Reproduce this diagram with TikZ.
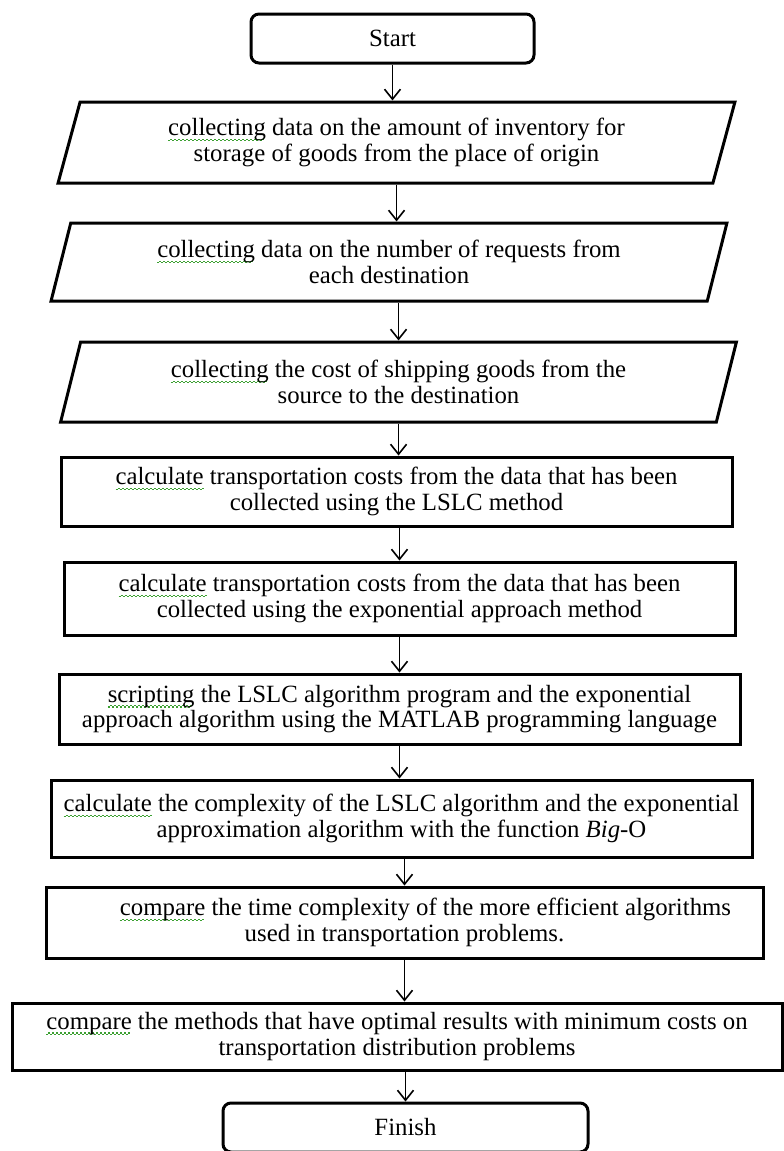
\documentclass[tikz,border=0pt]{standalone}
\usepackage{fontspec}
\setmainfont{Liberation Serif}
\usetikzlibrary{arrows.meta,shapes.geometric}
\definecolor{spellgreen}{RGB}{60,160,50}
\newsavebox{\splbox}
\newcommand{\spl}[1]{\sbox{\splbox}{#1}\leavevmode\rlap{\raisebox{-2.8pt}{\color{spellgreen}%
  \hbox to \wd\splbox{\leaders\hbox to 2pt{\rule{1pt}{0.7pt}\rule[0.7pt]{1pt}{0.7pt}}\hfill}}}\usebox{\splbox}}

\begin{document}
\begin{tikzpicture}[
  x=0.5pt, y=-0.5pt,
  font=\fontsize{12.4}{12.8}\selectfont,
  arrow/.style={-{Straight Barb[length=5pt,width=8pt]}, line width=0.8pt},
  terminal/.style={draw, line width=1.5pt, rounded corners=4pt, align=center},
  iobox/.style={draw, line width=1.5pt, trapezium, trapezium left angle=73,
    trapezium right angle=107, trapezium stretches=true, align=center, inner sep=1pt},
  procbox/.style={draw, line width=1.5pt, align=center, inner sep=1pt}
]
\useasboundingbox (0,0) rectangle (783,1151);

\node[terminal, minimum width=141.5pt, minimum height=24.5pt] (start) at (392.5,38.5) {Start};

\node[iobox, minimum width=338.5pt, minimum height=40.5pt] (collect1) at (396.5,142.5)
  {\spl{collecting} data on the amount of inventory for\\storage of goods from the place of origin};
\node[iobox, minimum width=338pt, minimum height=39pt] (collect2) at (389,262)
  {\spl{collecting} data on the number of requests from\\each destination};
\node[iobox, minimum width=338.5pt, minimum height=40pt] (collect3) at (398.5,382)
  {\spl{collecting} the cost of shipping goods from the\\source to the destination};

\node[procbox, minimum width=335.5pt, minimum height=34.5pt] (calclslc) at (396.5,491.5)
  {\spl{calculate} transportation costs from the data that has been\\collected using the LSLC method};
\node[procbox, minimum width=335.5pt, minimum height=36.5pt] (calcexp) at (399.5,598.5)
  {\spl{calculate} transportation costs from the data that has been\\collected using the exponential approach method};
\node[procbox, minimum width=340.5pt, minimum height=35pt] (script) at (399.5,709)
  {\spl{scripting} the LSLC algorithm program and the exponential\\approach algorithm using the MATLAB programming language};
\node[procbox, minimum width=350.5pt, minimum height=38.5pt] (bigo) at (401.5,818.5)
  {\spl{calculate} the complexity of the LSLC algorithm and the exponential\\approximation algorithm with the function \textit{Big}-O};
\node[procbox, minimum width=358.5pt, minimum height=35.5pt] (cmptime) at (404.5,922.5)
  {\hspace*{21pt}\spl{compare} the time complexity of the more efficient algorithms\\used in transportation problems.};
\node[procbox, minimum width=385pt, minimum height=33.5pt] (cmpcost) at (397,1036.5)
  {\spl{compare} the methods that have optimal results with minimum costs on\\transportation distribution problems};

\node[terminal, minimum width=182.5pt, minimum height=24.5pt] (finish) at (405.5,1127.5) {Finish};

\draw[arrow] (start.south) -- (start.south |- collect1.north);
\draw[arrow] (collect1.south) -- (collect1.south |- collect2.north);
\draw[arrow] (collect3.north |- collect2.south) -- (collect3.north);
\draw[arrow] (collect3.south) -- (collect3.south |- calclslc.north);
\draw[arrow] (calcexp.north |- calclslc.south) -- (calcexp.north);
\draw[arrow] (calcexp.south) -- (calcexp.south |- script.north);
\draw[arrow] (script.south) -- (script.south |- bigo.north);
\draw[arrow] (cmptime.north |- bigo.south) -- (cmptime.north);
\draw[arrow] (cmptime.south) -- (cmptime.south |- cmpcost.north);
\draw[arrow] (finish.north |- cmpcost.south) -- (finish.north);

\end{tikzpicture}
\end{document}
